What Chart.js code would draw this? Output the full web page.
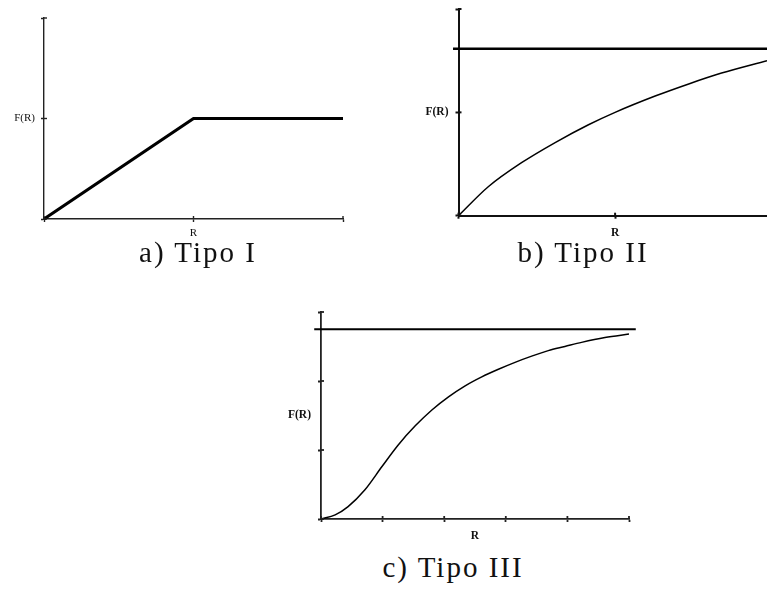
<!DOCTYPE html>
<html>
<head>
<meta charset="utf-8">
<script src="https://cdn.jsdelivr.net/npm/chart.js@4"></script>
<style>
  html, body { margin: 0; padding: 0; background: #fff; }
  #page { position: relative; width: 767px; height: 597px; overflow: hidden; background: #fff; }
  canvas { position: absolute; }
  .caption { position: absolute; font-family: "Liberation Serif", serif; font-size: 29px; line-height: 33px; color: #111;
             letter-spacing: 2px; white-space: nowrap; transform: translateX(-50%); }
</style>
</head>
<body>
<div id="page">
  <canvas id="chartI" width="380" height="245" style="left:0px;top:0px"></canvas>
  <canvas id="chartII" width="367" height="245" style="left:400px;top:0px"></canvas>
  <canvas id="chartIII" width="380" height="250" style="left:270px;top:300px"></canvas>
  <div class="caption" style="left:198px;top:236px">a) Tipo I</div>
  <div class="caption" style="left:583px;top:236px">b) Tipo II</div>
  <div class="caption" style="left:453px;top:551px">c) Tipo III</div>
</div>
<script>
// Tipo I: linear rise up to R, then flat
const typeI_R = [0, 1, 2];
const typeI_F = [0, 1, 1];
const typeI_xTicks = [0, 1, 2];
const typeI_yTicks = [0, 1, 2];

// Tipo II: decelerating rise towards a ceiling
const typeII_R = [0, 0.19, 0.40, 0.62, 0.83, 1.0, 1.26, 1.47, 1.68, 1.97];
const typeII_F = [0, 0.28, 0.51, 0.71, 0.88, 1.0, 1.16, 1.275, 1.38, 1.50];
const typeII_ceilR = [-0.035, 1.97];
const typeII_ceilF = [1.615, 1.615];
const typeII_xTicks = [0, 1];
const typeII_yTicks = [0, 1, 2];

// Tipo III: sigmoid rise towards a ceiling
const typeIII_R = [0, 0.23, 0.44, 0.71, 0.99, 1.25, 1.53, 1.80, 2.07, 2.34, 2.61, 2.88, 3.15, 3.42, 3.69, 3.96, 4.23, 4.61, 5.0];
const typeIII_F = [0, 0.06, 0.18, 0.42, 0.76, 1.07, 1.35, 1.58, 1.77, 1.93, 2.06, 2.17, 2.27, 2.36, 2.44, 2.50, 2.56, 2.63, 2.68];
const typeIII_ceilR = [-0.11, 5.11];
const typeIII_ceilF = [2.75, 2.75];
const typeIII_xTicks = [0, 1, 2, 2.5, 3, 4, 5];
const typeIII_yTicks = [0, 1, 1.5, 2, 3];

// axis names
const xName = 'R';
const yName = 'F(R)';

const toPoints = (xs, ys) => xs.map((x, i) => ({ x: x, y: ys[i] }));

// Small tick marks that also poke into the plot side of each axis
const crossTicks = {
  id: 'crossTicks',
  afterDatasetsDraw(chart, args, opts) {
    const ctx = chart.ctx;
    ctx.save();
    ctx.strokeStyle = opts.color || '#000';
    ctx.lineWidth = opts.width || 1.5;
    const len = opts.length || 3;
    const skip = opts.skip || {};
    ['x', 'y'].forEach(id => {
      const s = chart.scales[id];
      const skipVals = skip[id] || [];
      s.ticks.forEach(t => {
        if (skipVals.includes(t.value)) return;
        const p = s.getPixelForValue(t.value);
        ctx.beginPath();
        if (id === 'x') { ctx.moveTo(p, s.top); ctx.lineTo(p, s.top - len); }
        else { ctx.moveTo(s.right, p); ctx.lineTo(s.right + len, p); }
        ctx.stroke();
      });
    });
    ctx.restore();
  }
};

function makeChart(canvasId, cfg) {
  const fontSpec = { family: '"Liberation Serif", serif', size: cfg.labelSize, weight: cfg.bold ? 'bold' : 'normal' };
  const hidden = cfg.hiddenTicks || { x: [], y: [] };
  const tickColor = axis => c => (c.tick && hidden[axis].includes(c.tick.value)) ? 'rgba(0,0,0,0)' : cfg.axisColor;
  return new Chart(document.getElementById(canvasId), {
    type: 'line',
    data: { datasets: cfg.datasets },
    options: {
      responsive: false,
      devicePixelRatio: 1,
      animation: false,
      events: [],
      layout: { padding: cfg.padding },
      plugins: {
        legend: { display: false },
        tooltip: { enabled: false },
        crossTicks: { color: cfg.axisColor, width: cfg.axisWidth, length: 3, skip: hidden }
      },
      scales: {
        x: {
          type: 'linear', min: cfg.xMin, max: cfg.xMax,
          afterBuildTicks: s => { s.ticks = cfg.xTicks.map(v => ({ value: v })); },
          afterFit: s => { s.height = cfg.xHeight; s.paddingLeft = 0; s.paddingRight = 0; },
          border: { display: true, color: cfg.axisColor, width: cfg.axisWidth },
          grid: { drawOnChartArea: false, drawTicks: true, tickLength: 3, tickWidth: cfg.axisWidth, tickColor: tickColor('x') },
          ticks: {
            autoSkip: false, maxRotation: 0, padding: cfg.xPad, color: '#111', font: fontSpec,
            callback: v => (v === cfg.xLabelAt ? xName : '')
          }
        },
        y: {
          type: 'linear', min: 0, max: cfg.yMax,
          afterBuildTicks: s => { s.ticks = cfg.yTicks.map(v => ({ value: v })); },
          afterFit: s => { s.width = cfg.yWidth; s.paddingTop = 0; s.paddingBottom = 0; },
          border: { display: true, color: cfg.axisColor, width: cfg.axisWidth },
          grid: { drawOnChartArea: false, drawTicks: true, tickLength: 3, tickWidth: cfg.axisWidth, tickColor: tickColor('y') },
          ticks: {
            autoSkip: false, padding: cfg.yPad, color: '#111', font: fontSpec,
            callback: v => (v === cfg.yLabelAt ? yName : '')
          }
        }
      }
    },
    plugins: [crossTicks]
  });
}

const lineStyle = (w) => ({
  borderColor: '#000', borderWidth: w, pointRadius: 0, fill: false,
  cubicInterpolationMode: 'monotone', clip: false
});

makeChart('chartI', {
  padding: { left: 0, top: 18, right: 37, bottom: 0 },
  yWidth: 44, xHeight: 26, xMin: 0, xMax: 2, yMax: 2,
  xTicks: typeI_xTicks, yTicks: typeI_yTicks, xLabelAt: 1, yLabelAt: 1,
  labelSize: 11, bold: false, xPad: 5, yPad: 6,
  axisColor: '#222', axisWidth: 1.4,
  datasets: [Object.assign({ data: toPoints(typeI_R, typeI_F), tension: 0 }, lineStyle(3.2), { cubicInterpolationMode: 'default' })]
});

makeChart('chartII', {
  padding: { left: 0, top: 9, right: 0, bottom: 0 },
  yWidth: 58.5, xHeight: 29.3, xMin: 0, xMax: 1.97, yMax: 2,
  xTicks: typeII_xTicks, yTicks: typeII_yTicks, xLabelAt: 1, yLabelAt: 1,
  labelSize: 11.5, bold: true, xPad: 7, yPad: 7,
  axisColor: '#111', axisWidth: 2,
  datasets: [
    Object.assign({ data: toPoints(typeII_ceilR, typeII_ceilF) }, lineStyle(2.6)),
    Object.assign({ data: toPoints(typeII_R, typeII_F) }, lineStyle(1.5))
  ]
});

makeChart('chartIII', {
  padding: { left: 0, top: 12, right: 21, bottom: 0 },
  yWidth: 51, xHeight: 31, xMin: 0, xMax: 5, yMax: 3,
  xTicks: typeIII_xTicks, yTicks: typeIII_yTicks, xLabelAt: 2.5, yLabelAt: 1.5,
  hiddenTicks: { x: [2.5], y: [1.5] },
  labelSize: 11.5, bold: true, xPad: 7, yPad: 7,
  axisColor: '#222', axisWidth: 1.8,
  datasets: [
    Object.assign({ data: toPoints(typeIII_ceilR, typeIII_ceilF) }, lineStyle(1.8)),
    Object.assign({ data: toPoints(typeIII_R, typeIII_F) }, lineStyle(1.5))
  ]
});
</script>
</body>
</html>
